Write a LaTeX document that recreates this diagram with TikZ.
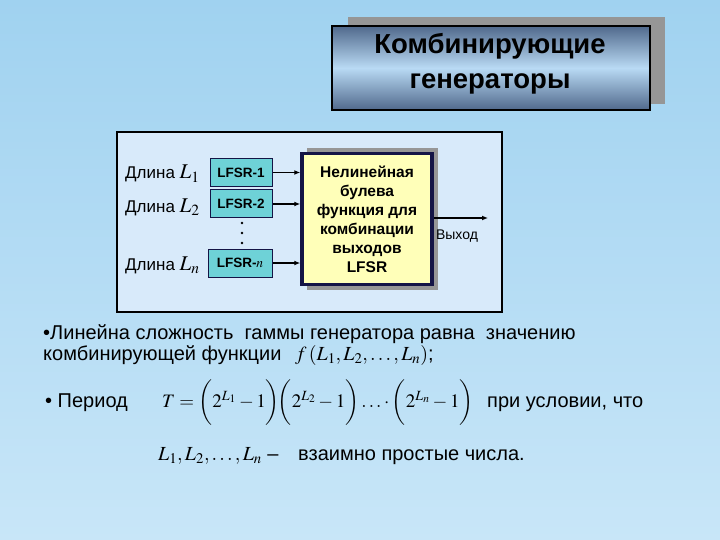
\documentclass[tikz,border=0pt]{standalone}
\usepackage{fix-cm}
\usepackage{mathptmx}
\usepackage[no-math]{fontspec}
\setmainfont{Liberation Sans}
\usetikzlibrary{arrows.meta}
\definecolor{bgtop}{RGB}{160,210,240}
\definecolor{bgbot}{RGB}{200,230,248}
\definecolor{framefill}{RGB}{216,234,250}
\definecolor{lfsrfill}{RGB}{110,210,215}
\definecolor{yfill}{RGB}{255,255,185}
\definecolor{navy}{RGB}{20,20,70}
\definecolor{tdark}{RGB}{80,105,140}
\definecolor{tlight}{RGB}{185,218,244}
\definecolor{shgrey}{RGB}{150,150,150}
\tikzset{
  lfsrbox/.style={draw=navy, line width=1pt, fill=lfsrfill, minimum width=62pt, minimum height=28pt, inner sep=0pt, font=\bfseries\fontsize{13.5}{15}\selectfont},
  lbl/.style={anchor=base west, inner sep=0pt, font=\fontsize{17}{19}\selectfont},
  body/.style={anchor=base west, inner sep=0pt, font=\fontsize{20}{23}\selectfont},
  conn/.style={line width=1.3pt, -{Latex[length=6pt,width=5pt]}},
}
\begin{document}
\begin{tikzpicture}[x=1pt,y=-1pt]
\useasboundingbox (0,0) rectangle (720,540);
\shade[top color=bgtop, bottom color=bgbot] (0,0) rectangle (720,540);
% title
\fill[shgrey] (348,17) rectangle (665,104);
\shade[top color=tdark, bottom color=tdark, middle color=tlight] (332,26) rectangle (650,110);
\draw[black, line width=1.5pt] (332,26) rectangle (650,110);
\node[align=center, inner sep=0pt, text=black, font=\bfseries\fontsize{27.5}{35}\selectfont] (title) at (490,64) {Комбинирующие\\генераторы};
% frame
\draw[black, line width=2.5pt, fill=framefill] (117,132) rectangle (502,312);
% LFSR boxes
\node[lfsrbox] (l1) at (241,172.5) {LFSR-1};
\node[lfsrbox] (l2) at (241,204) {LFSR-2};
\node[lfsrbox, minimum width=64pt] (ln) at (240,263) {LFSR-$n$};
\fill (242,223) circle (1.3pt) (242,233) circle (1.3pt) (242,243) circle (1.3pt);
% left labels
\node[lbl] (d1) at (125,179) {Длина {\fontsize{21}{22}\selectfont$L_1$}};
\node[lbl] (d2) at (125,212) {Длина {\fontsize{21}{22}\selectfont$L_2$}};
\node[lbl] (dn) at (125,270) {Длина {\fontsize{21}{22}\selectfont$L_n$}};
% yellow box
\fill[shgrey] (307,148) rectangle (438,290);
\node[draw=navy, line width=3.5pt, fill=yfill, minimum width=130pt, minimum height=131pt, inner sep=0pt, align=center, font=\bfseries\fontsize{15.5}{19}\selectfont] (yb) at (367,219) {Нелинейная\\булева\\функция для\\комбинации\\выходов\\LFSR};
% connectors
\draw[conn] (l1.east) -- (l1.east -| yb.west);
\draw[conn] (l2.east) -- (l2.east -| yb.west);
\draw[conn] (ln.east) -- (ln.east -| yb.west);
\coordinate (outend) at (488,218);
\draw[conn] (yb.east |- outend) -- (outend);
\node[inner sep=0pt, font=\fontsize{14}{16}\selectfont] (vyh) at (457,236) {Выход};
% bottom text
\node[body] (t1) at (43,339) {•Линейна сложность\ \ гаммы генератора равна\ \ значению};
\node[body] (t2) at (43,360) {комбинирующей функции};
\node[body] (f2) at (295,360) {$f\,(L_1,L_2,\ldots,L_n)$;};
\node[body] (t3) at (45,407) {• Период};
\node[body, font=\fontsize{19}{22}\selectfont] (f3) at (162,407) {$T=\biggl(2^{L_1}-1\biggr)\!\biggl(2^{L_2}-1\biggr)\ldots\cdot\biggl(2^{L_n}-1\biggr)$};
\node[body] (t3b) at (487,407) {при условии, что};
\node[body] (f4) at (158,460) {$L_1,L_2,\ldots,L_n$ –};
\node[body] (t4) at (298,460) {взаимно простые числа.};
\end{tikzpicture}
\end{document}
